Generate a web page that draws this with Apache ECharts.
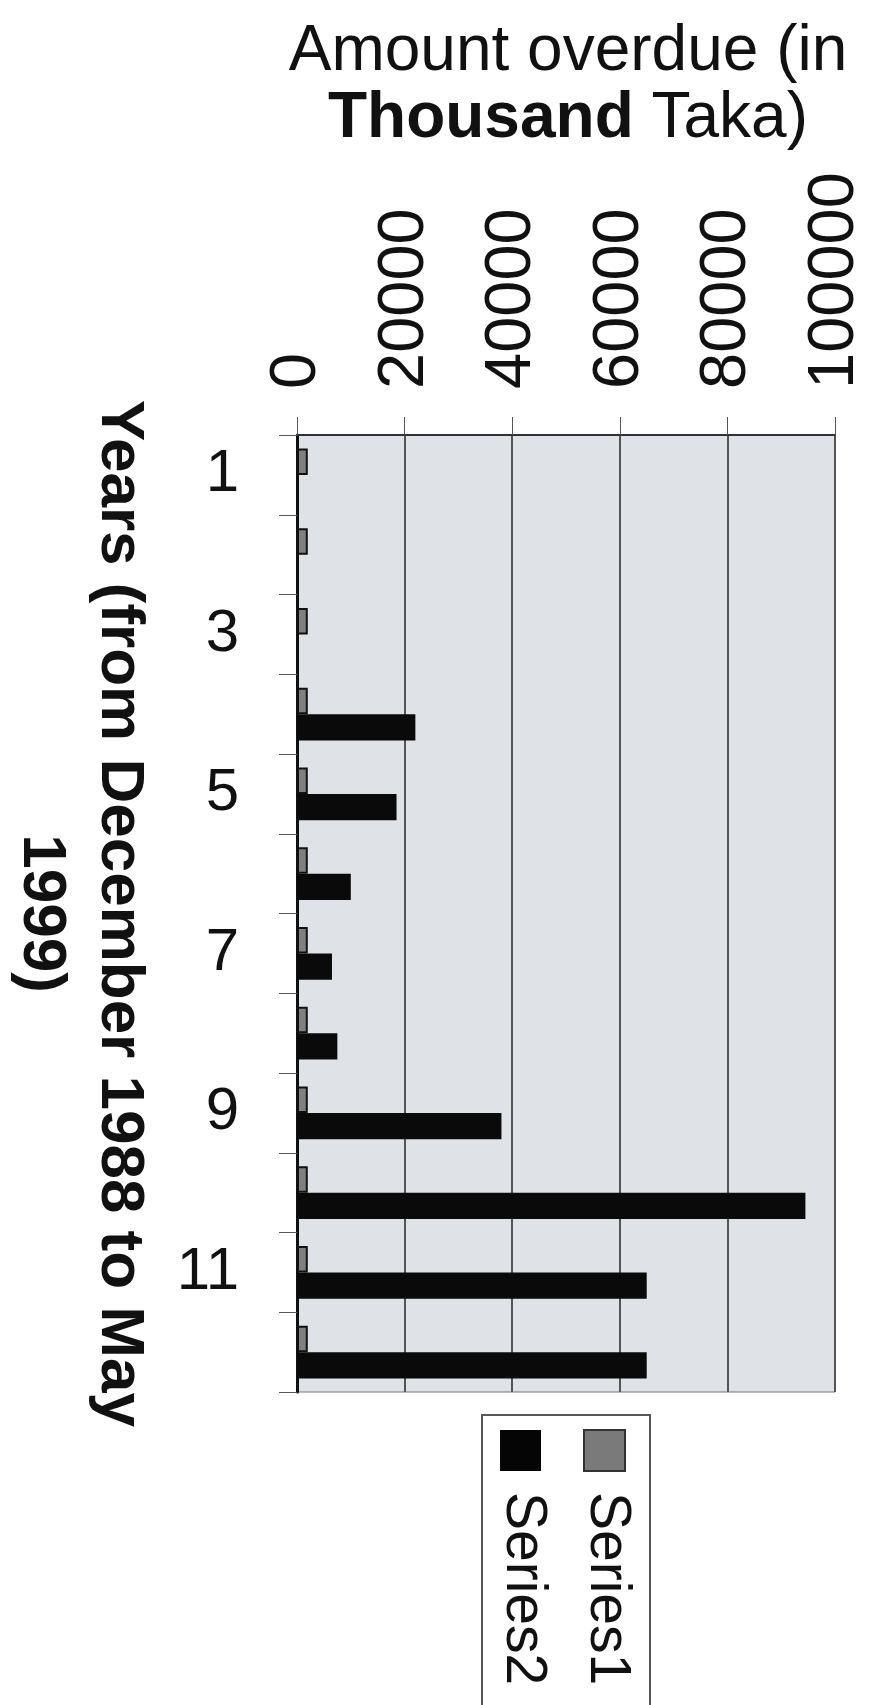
<!DOCTYPE html>
<html>
<head>
<meta charset="utf-8">
<script src="https://cdn.jsdelivr.net/npm/echarts@6/dist/echarts.min.js"></script>
<style>
html,body{margin:0;padding:0;background:#fff;}
#chart{width:871px;height:1705px;}
</style>
</head>
<body>
<div id="chart"></div>
<script>
const categories = ['1','2','3','4','5','6','7','8','9','10','11','12'];
const seriesNames = ['Series1','Series2'];
const series1Values = [2000, 2000, 2000, 2000, 2000, 2000, 2000, 2000, 2000, 2000, 2000, 2000];
const series2Values = [0, 0, 0, 22000, 18500, 10000, 6500, 7500, 38000, 94500, 65000, 65000];
const valueTicks = [0, 20000, 40000, 60000, 80000, 100000];
const titleLine1 = 'Amount overdue (in';
const titleBold = 'Thousand';
const titleRest = 'Taka)';
const yAxisName = 'Years (from December 1988 to May\n1999)';

const FONT = '"Liberation Sans", Arial, Helvetica, sans-serif';
const chart = echarts.init(document.getElementById('chart'), null, {renderer: 'canvas'});

const option = {
  animation: false,
  backgroundColor: '#ffffff',
  grid: {
    left: 297, right: 36, top: 435, bottom: 313,
    containLabel: false, outerBoundsMode: 'none',
    show: true, backgroundColor: '#dfe2e7', borderColor: '#777', borderWidth: 1
  },
  xAxis: {
    type: 'value',
    position: 'top',
    min: valueTicks[0],
    max: valueTicks[valueTicks.length - 1],
    interval: valueTicks[1] - valueTicks[0],
    axisLine: {show: true, lineStyle: {color: '#333', width: 2}},
    axisTick: {show: true, length: 18, inside: false, lineStyle: {color: '#555', width: 1}},
    splitLine: {show: true, lineStyle: {color: '#555', width: 2}},
    axisLabel: {
      rotate: -90, margin: 46, fontSize: 65, color: '#111', fontFamily: FONT,
      formatter: function (v) { return String(v); }
    }
  },
  yAxis: {
    type: 'category',
    inverse: true,
    data: categories,
    name: yAxisName,
    nameLocation: 'middle',
    nameRotate: -90,
    nameGap: 139,
    nameTextStyle: {fontSize: 62, fontWeight: 'bold', color: '#111', fontFamily: FONT, lineHeight: 78, align: 'center'},
    axisLine: {show: true, lineStyle: {color: '#111', width: 3}},
    axisTick: {show: true, interval: 0, length: 18, alignWithLabel: false, lineStyle: {color: '#555', width: 1}},
    splitLine: {show: false},
    axisLabel: {interval: 1, margin: 58, fontSize: 60, color: '#111', fontFamily: FONT}
  },
  series: [
    {
      name: seriesNames[0], type: 'bar', data: series1Values,
      barGap: '0%', barCategoryGap: '34%',
      itemStyle: {color: '#808080', borderColor: '#111', borderWidth: 2}
    },
    {
      name: seriesNames[1], type: 'bar', data: series2Values,
      barGap: '0%', barCategoryGap: '34%',
      itemStyle: {color: '#0a0a0a'}
    }
  ],
  graphic: [
    {
      type: 'text', x: 568, y: 19,
      style: {
        text: '{n|' + titleLine1 + '}\n{b|' + titleBold + '}{n| ' + titleRest + '}',
        textAlign: 'center', textVerticalAlign: 'top',
        fill: '#111',
        rich: {
          n: {fontSize: 64, fontFamily: FONT, lineHeight: 67, fill: '#111'},
          b: {fontSize: 64, fontFamily: FONT, fontWeight: 'bold', lineHeight: 67, fill: '#111'}
        }
      }
    },
    {
      type: 'rect', shape: {x: 482, y: 1415, width: 168, height: 320},
      style: {fill: 'none', stroke: '#555', lineWidth: 2}
    },
    {
      type: 'rect', shape: {x: 584, y: 1430, width: 41, height: 41},
      style: {fill: '#7a7a7a', stroke: '#333', lineWidth: 2}
    },
    {
      type: 'rect', shape: {x: 500, y: 1430, width: 41, height: 41},
      style: {fill: '#050505'}
    },
    {
      type: 'text', x: 607, y: 1492, rotation: -Math.PI / 2,
      style: {text: seriesNames[0], fontSize: 57, fontFamily: FONT, fill: '#111', textAlign: 'left', textVerticalAlign: 'middle'}
    },
    {
      type: 'text', x: 523, y: 1492, rotation: -Math.PI / 2,
      style: {text: seriesNames[1], fontSize: 57, fontFamily: FONT, fill: '#111', textAlign: 'left', textVerticalAlign: 'middle'}
    }
  ]
};
chart.setOption(option);
</script>
</body>
</html>
